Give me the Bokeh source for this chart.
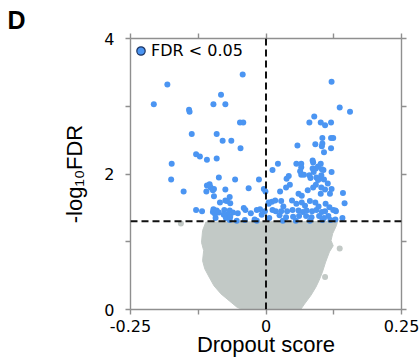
import numpy as np
from bokeh.plotting import figure
from bokeh.models import Span, LinearAxis, FixedTicker, Range1d, Legend, LegendItem
from bokeh.embed import file_html
from bokeh.resources import INLINE

# ---- data ----
# significant genes (FDR < 0.05): dropout score, -log10 FDR
sig_score = [
    -0.043, -0.182, -0.083, -0.207, -0.097, -0.075, -0.142, -0.141, -0.048, -0.042,
    -0.137, -0.091, -0.080, -0.064, -0.047, -0.129, -0.122, -0.109, -0.091, -0.174,
    -0.175, -0.087, -0.057, -0.013, -0.152, -0.104, -0.109, -0.102, -0.096, -0.110,
    -0.098, -0.075, -0.032, -0.004, -0.001, -0.096, -0.067, -0.075, -0.085, -0.066,
    -0.072, -0.129, -0.118, -0.097, -0.098, -0.094, -0.091, -0.087, -0.077, -0.067,
    -0.061, -0.071, -0.078, -0.038, -0.017, -0.011, -0.002, -0.054, -0.039, -0.021,
    -0.017, -0.093, -0.074, -0.067, -0.066, -0.041, -0.028, -0.052, -0.008,
    0.121, 0.136, 0.155, 0.089, 0.080, 0.101, 0.109, 0.120, 0.104, 0.120,
    0.124, 0.091, 0.103, 0.104, 0.120, 0.058, 0.107, 0.012, 0.022, 0.056,
    0.065, 0.065, 0.086, 0.087, 0.096, 0.101, 0.086, 0.106, 0.121, 0.042,
    0.038, 0.063, 0.065, 0.070, 0.080, 0.088, 0.082, 0.093, 0.099, 0.092,
    0.103, 0.102, 0.096, 0.107, 0.114, 0.044, 0.037, 0.026, 0.060, 0.066,
    0.077, 0.087, 0.092, 0.102, 0.109, 0.121, 0.142, 0.145, 0.118, 0.101,
    0.011, 0.005, 0.017, 0.028, 0.032, 0.048, 0.056, 0.066, 0.072, 0.081,
    0.091, 0.097, 0.110, 0.117, 0.124, 0.012, 0.018, 0.028, 0.039, 0.049,
    0.060, 0.068, 0.075, 0.085, 0.093, 0.103, 0.109, 0.129, 0.025, 0.037,
    0.050, 0.061, 0.074, 0.084, 0.098, 0.107, 0.115, 0.128, 0.141, 0.006,
    0.031, 0.055, 0.081, 0.104, 0.119, 0.005, 0.128,
]
sig_neglog_fdr = [
    3.47, 3.32, 3.17, 3.03, 3.03, 3.03, 2.95, 2.92, 2.76, 2.76,
    2.59, 2.59, 2.49, 2.49, 2.38, 2.29, 2.26, 2.21, 2.23, 2.15,
    1.92, 1.95, 1.92, 1.92, 1.74, 1.85, 1.83, 1.80, 1.78, 1.74,
    1.76, 1.77, 1.79, 1.78, 1.74, 1.67, 1.66, 1.61, 1.58, 1.57,
    1.60, 1.47, 1.45, 1.48, 1.44, 1.41, 1.46, 1.43, 1.47, 1.46,
    1.43, 1.40, 1.40, 1.47, 1.47, 1.48, 1.45, 1.31, 1.32, 1.33,
    1.31, 1.35, 1.35, 1.32, 1.37, 1.50, 1.42, 1.42, 1.40,
    3.36, 2.98, 2.92, 2.85, 2.76, 2.76, 2.72, 2.76, 2.53, 2.53,
    2.53, 2.44, 2.41, 2.45, 2.38, 2.42, 2.32, 2.06, 2.15, 2.15,
    2.15, 2.10, 2.20, 2.17, 2.11, 2.15, 2.08, 2.06, 2.03, 1.97,
    1.93, 2.04, 1.99, 1.99, 1.98, 2.03, 1.94, 1.95, 1.93, 2.08,
    2.07, 1.98, 1.91, 1.92, 1.86, 1.84, 1.80, 1.74, 1.71, 1.68,
    1.76, 1.80, 1.84, 1.80, 1.77, 1.78, 1.72, 1.57, 1.71, 1.71,
    1.59, 1.56, 1.61, 1.60, 1.52, 1.61, 1.56, 1.58, 1.53, 1.60,
    1.58, 1.52, 1.56, 1.51, 1.47, 1.47, 1.45, 1.45, 1.45, 1.47,
    1.46, 1.44, 1.46, 1.45, 1.47, 1.44, 1.45, 1.45, 1.39, 1.36,
    1.37, 1.38, 1.38, 1.36, 1.38, 1.35, 1.38, 1.33, 1.35, 1.35,
    1.31, 1.31, 1.31, 1.32, 1.32, 1.58, 1.46,
]

# non-significant genes: outline of the dense grey cloud, plus stray points
ns_outline_score = [
    -0.111, -0.117, -0.119, -0.115, -0.117, -0.113, -0.105, -0.096, -0.083, -0.068,
    -0.053, -0.043, 0.064, 0.071, 0.083, 0.092, 0.098, 0.104, 0.110, 0.117,
    0.124, 0.120, 0.123, 0.130, 0.132,
]
ns_outline_neglog_fdr = [
    1.29, 1.165, 0.99, 0.87, 0.72, 0.60, 0.48, 0.35, 0.23, 0.13,
    0.03, 0.0, 0.0, 0.08, 0.21, 0.33, 0.43, 0.55, 0.70, 0.85,
    0.94, 1.02, 1.12, 1.24, 1.30,
]
ns_stray_score = [-0.157, 0.136, 0.109]
ns_stray_neglog_fdr = [1.27, 0.90, 0.48]

fdr_cutoff = 0.05
x_major = [-0.25, 0, 0.25]
x_minor = [-0.125, 0.125]
y_major = [0, 2, 4]
y_minor = [1, 3]
x_tick_text = {-0.25: "-0.25", 0: "0", 0.25: "0.25"}

BLUE = "#4b95f2"
GREY = "#c2c9c6"
AXIS = "#8f8f8f"
TICK_FONT = "DejaVu Sans"
TITLE_FONT = "Liberation Sans"

p = figure(width=420, height=360,
           x_range=Range1d(-0.25, 0.25), y_range=Range1d(0, 4),
           output_backend="svg", toolbar_location=None,
           min_border_left=130, min_border_right=19,
           min_border_top=38, min_border_bottom=51)
p.outline_line_color = None
p.xgrid.grid_line_color = None
p.ygrid.grid_line_color = None
p.background_fill_color = "white"
p.border_fill_color = "white"

# panel letter as the plot title
p.title.text = "D"
p.title.align = "left"
p.title.offset = -123
p.title.standoff = 0
p.title.text_font = TITLE_FONT
p.title.text_font_size = "25px"
p.title.text_font_style = "bold"
p.title.text_color = "black"


def style_axis(ax):
    ax.axis_line_color = AXIS
    ax.axis_line_width = 1.4
    ax.major_tick_line_color = AXIS
    ax.minor_tick_line_color = AXIS
    ax.major_tick_line_width = 1.4
    ax.minor_tick_line_width = 1.4
    ax.major_tick_out = 5
    ax.major_tick_in = 0
    ax.minor_tick_out = 5
    ax.minor_tick_in = 0
    ax.major_label_text_font = TICK_FONT
    ax.major_label_text_color = "black"
    ax.major_label_text_font_size = "16px"
    ax.axis_label_text_font = TITLE_FONT
    ax.axis_label_text_font_size = "22px"
    ax.axis_label_text_font_style = "normal"
    ax.axis_label_text_color = "black"


xb = p.below[0]
xb.ticker = FixedTicker(ticks=x_major, minor_ticks=x_minor)
xb.major_label_overrides = x_tick_text
style_axis(xb)
xb.major_label_standoff = 5
xb.axis_label = "Dropout score"
xb.axis_label_standoff = -3

yl = p.left[0]
yl.ticker = FixedTicker(ticks=y_major, minor_ticks=y_minor)
style_axis(yl)
yl.major_label_standoff = 11
yl.axis_label = "-log\u2081\u2080FDR"
yl.axis_label_standoff = 14

# top and right frame edges: tick marks only (no labels)
xt = LinearAxis(ticker=FixedTicker(ticks=[], minor_ticks=x_major + x_minor))
style_axis(xt)
xt.major_label_standoff = 0
p.add_layout(xt, "above")
yr = LinearAxis(ticker=FixedTicker(ticks=[], minor_ticks=y_major + y_minor))
style_axis(yr)
yr.major_label_standoff = 0
p.add_layout(yr, "right")

# grey cloud of non-significant genes
p.patch(ns_outline_score, ns_outline_neglog_fdr, fill_color=GREY, line_color=GREY, line_width=1)
p.scatter(ns_stray_score, ns_stray_neglog_fdr, size=6, fill_color=GREY, line_color=None)
# significant genes
p.scatter(sig_score, sig_neglog_fdr, size=6, fill_color=BLUE, line_color=None)

# threshold lines
p.add_layout(Span(location=0, dimension="height", line_color="#111111",
                  line_width=2, line_dash="7 4"))
p.add_layout(Span(location=-np.log10(fdr_cutoff), dimension="width", line_color="#111111",
                  line_width=2, line_dash="7 4"))

# legend key (renderer with no visible point)
key_r = p.scatter(x=[float("nan")], y=[float("nan")], size=10, fill_color=BLUE,
                  line_color="#1d3461", line_width=1.2)
legend = Legend(items=[LegendItem(label="FDR < 0.05", renderers=[key_r])],
                location="top_left", margin=0, padding=0, spacing=0,
                glyph_width=21, glyph_height=25, label_standoff=0,
                label_text_font=TICK_FONT, label_text_font_size="16px",
                label_text_color="black",
                background_fill_alpha=0, border_line_color=None)
p.add_layout(legend)

open("out.html", "w").write(file_html(p, INLINE))
